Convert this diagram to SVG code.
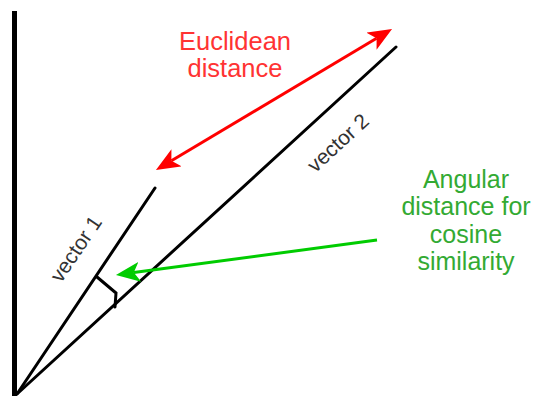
<svg xmlns="http://www.w3.org/2000/svg" width="534" height="396" viewBox="0 0 534 396">
<style>
.ax{stroke:#000;stroke-width:5;fill:none}
.vec{stroke:#000;stroke-width:3;fill:none;stroke-linecap:round}
.lbl{font-family:"Liberation Sans",Arial,sans-serif;font-size:21px;fill:#333;text-anchor:middle}
.red{font-family:"Liberation Sans",Arial,sans-serif;font-size:25.5px;fill:#FF3333;text-anchor:middle}
.grn{font-family:"Liberation Sans",Arial,sans-serif;font-size:25px;fill:#33AA33;text-anchor:middle}
</style>
<defs>
<marker id="ar" viewBox="0 0 24 20" refX="6" refY="10" markerWidth="24" markerHeight="20" markerUnits="userSpaceOnUse" orient="auto-start-reverse"><path d="M0,0 L24,10 L0,20 L6,10 Z" fill="#FF0000"/></marker>
<marker id="ag" viewBox="0 0 24 20" refX="6" refY="10" markerWidth="24" markerHeight="20" markerUnits="userSpaceOnUse" orient="auto"><path d="M0,0 L24,10 L0,20 L6,10 Z" fill="#00CC00"/></marker>
</defs>
<g id="axis"><line class="ax" x1="14.5" y1="11" x2="14.5" y2="396"/></g>
<g id="vector1"><line class="vec" x1="17" y1="394" x2="155" y2="188"/>
<text class="lbl" transform="translate(76,249) rotate(-56)" y="7">vector 1</text></g>
<g id="vector2"><line class="vec" x1="17" y1="394" x2="396" y2="47"/>
<text class="lbl" transform="translate(338,143) rotate(-42.5)" y="7">vector 2</text></g>
<g id="angle"><polyline class="vec" stroke-width="2.5" points="97,277 116,293 115,307"/></g>
<g id="euclidean"><text class="red" x="235" y="50">Euclidean</text><text class="red" x="235" y="77">distance</text></g>
<g id="angular"><text class="grn" x="466" y="188">Angular</text><text class="grn" x="466" y="215">distance for</text><text class="grn" x="466" y="243">cosine</text><text class="grn" x="466" y="270">similarity</text></g>
<g id="connectors">
<line x1="171.4" y1="160.8" x2="376.6" y2="38.2" stroke="#FF0000" stroke-width="3" marker-start="url(#ar)" marker-end="url(#ar)"/>
<line x1="377" y1="240" x2="133.8" y2="272.6" stroke="#00CC00" stroke-width="3" marker-end="url(#ag)"/>
</g>
</svg>
